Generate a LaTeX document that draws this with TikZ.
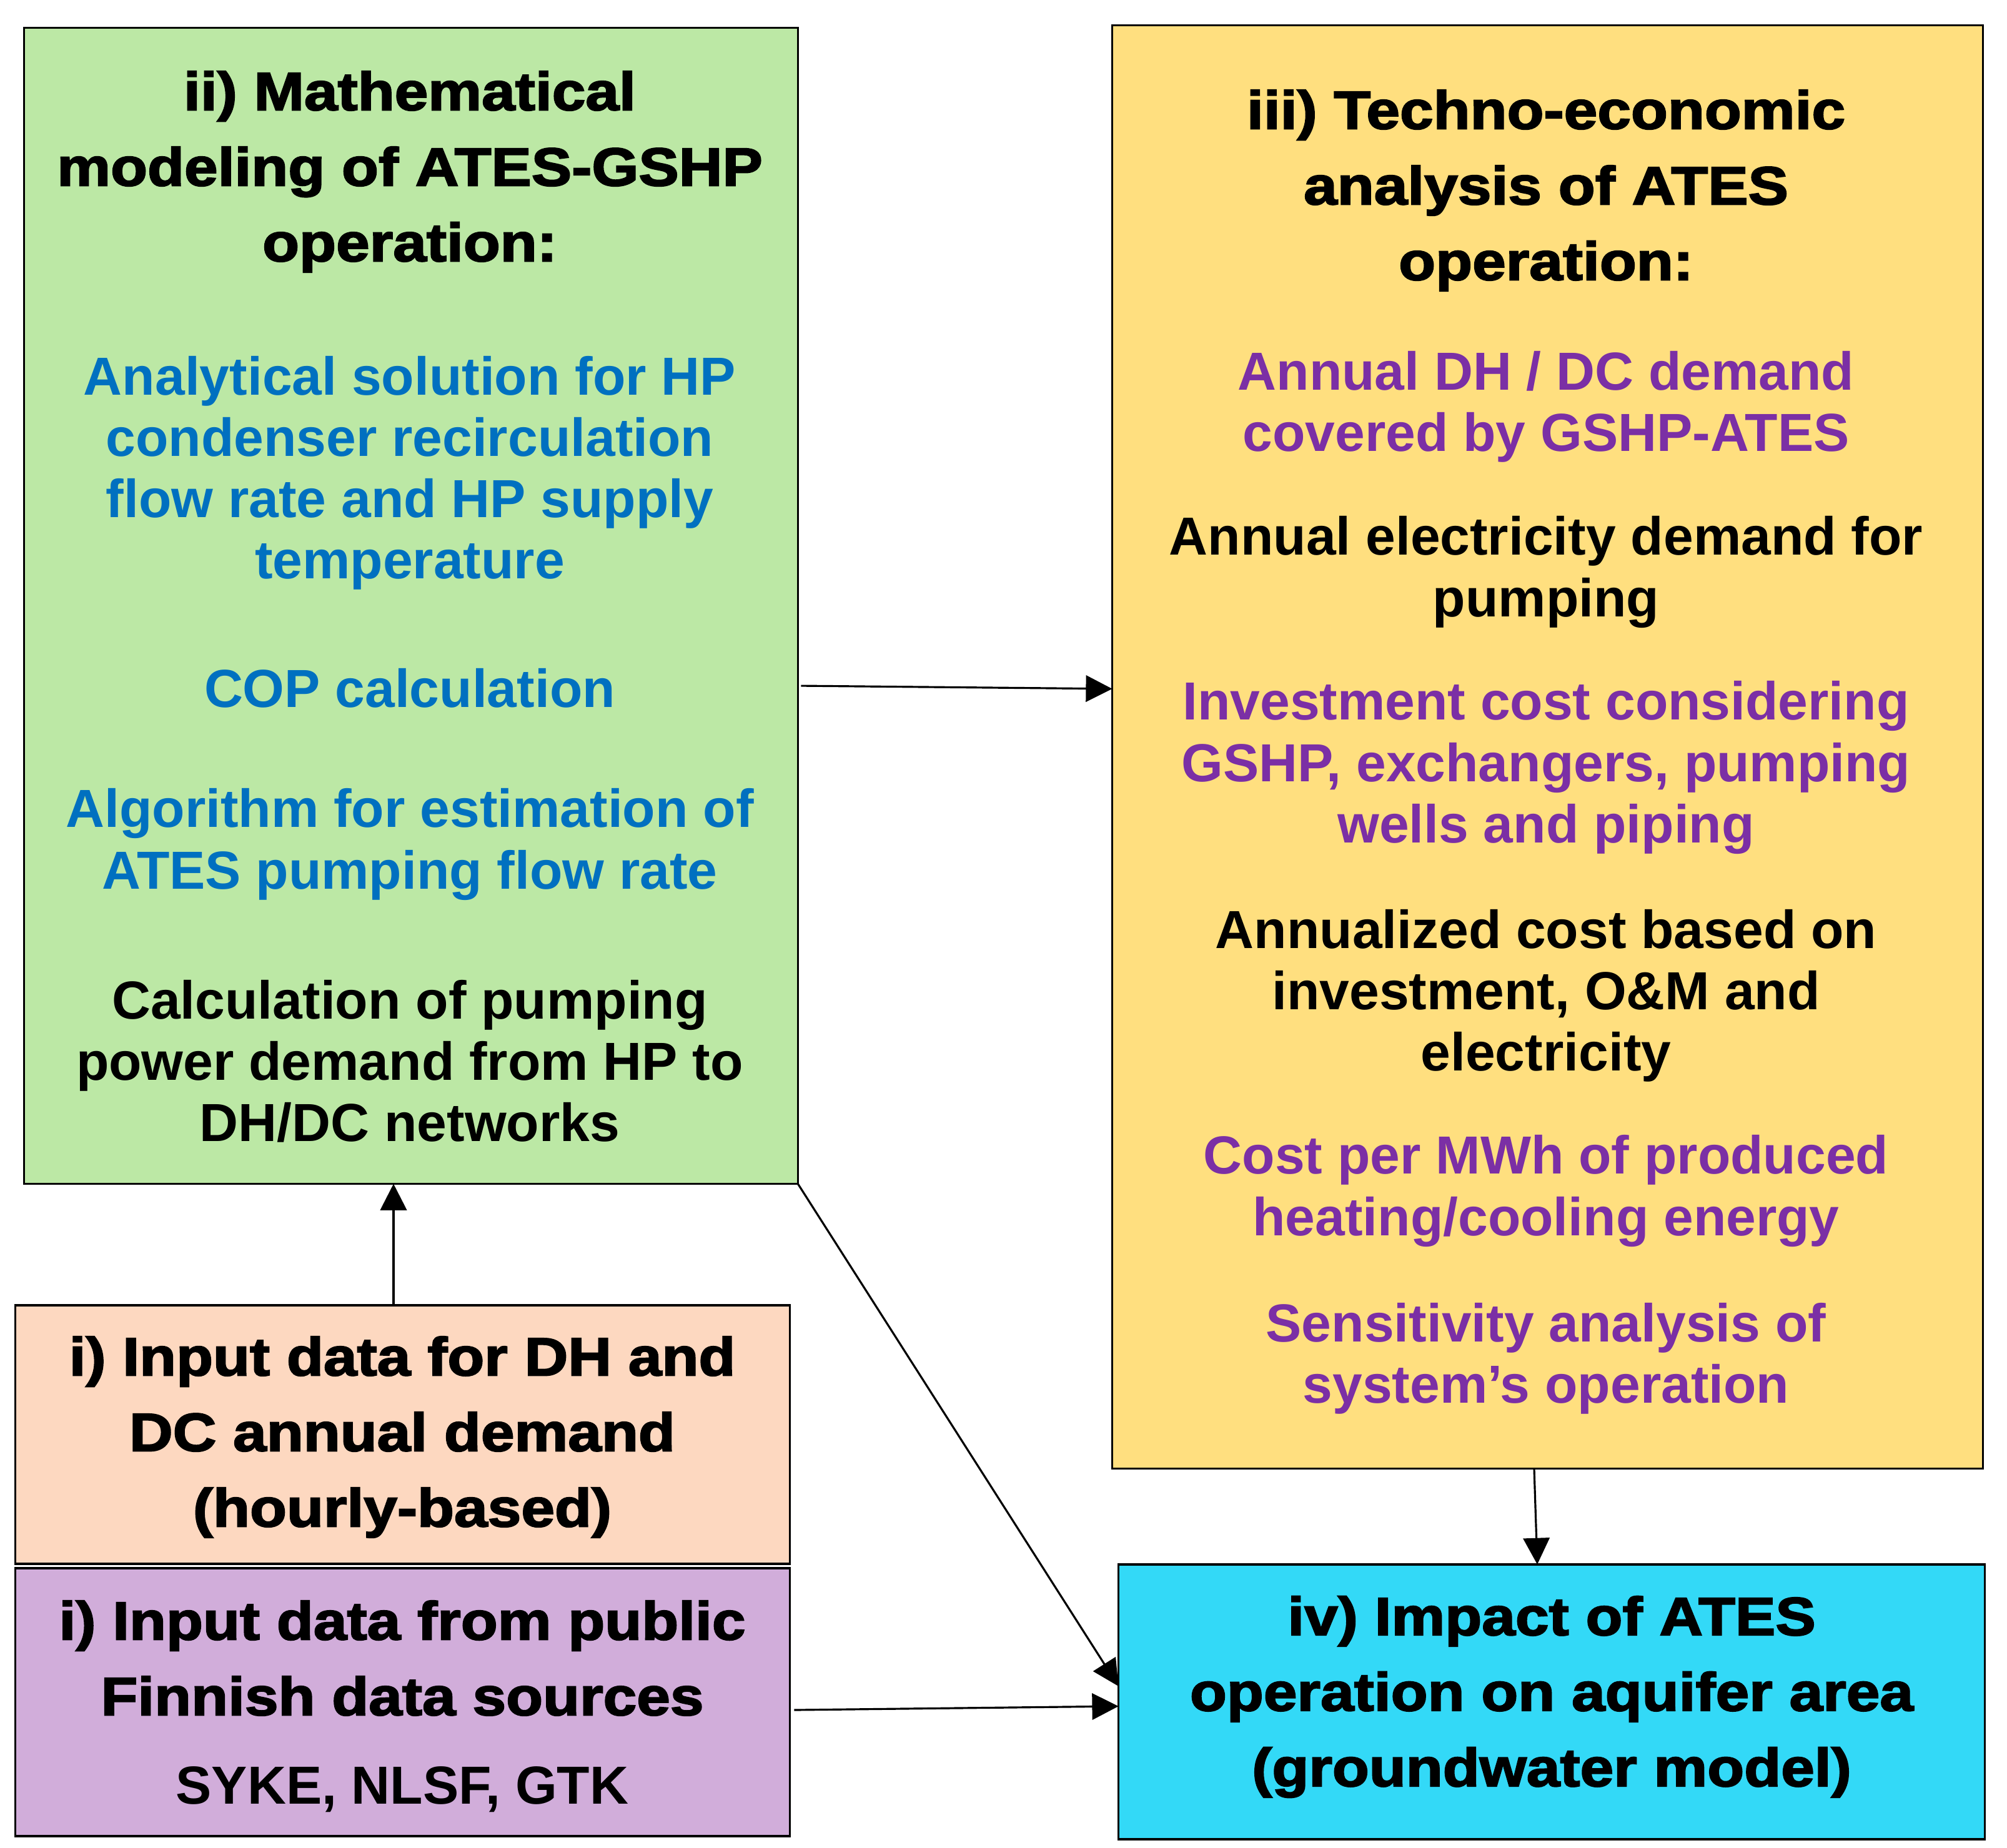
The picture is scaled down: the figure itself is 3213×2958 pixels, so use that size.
\documentclass[tikz,border=0pt]{standalone}
\usepackage{fontspec}
\setmainfont{Liberation Sans}
\newfontfamily\ttlfont{Liberation Sans}[BoldFeatures={FakeStretch=1.12,FakeBold=2.5}]
\usetikzlibrary{arrows.meta,calc}
\definecolor{gfill}{HTML}{BCE8A5}
\definecolor{yfill}{HTML}{FFDF7F}
\definecolor{pfill}{HTML}{FDD8C0}
\definecolor{vfill}{HTML}{D1ADDA}
\definecolor{cfill}{HTML}{33D9F7}
\definecolor{bluetxt}{HTML}{0070C0}
\definecolor{purtxt}{HTML}{7B2FA5}
\begin{document}
\begin{tikzpicture}[x=0.01cm,y=-0.01cm,
  box/.style={draw=black,line width=1pt,inner sep=0pt,outer sep=0pt},
  ttl/.style={align=center,inner sep=0pt,font=\ttlfont\bfseries\fontsize{24.5}{34.4}\selectfont},
  body/.style={align=center,inner sep=0pt,font=\bfseries\fontsize{24.4}{27.9}\selectfont},
  arr/.style={line width=0.9pt,-{Triangle[length=12pt,width=12pt]}}]
\useasboundingbox (0,0) rectangle (3213,2958);
\fill[white] (0,0) rectangle (3213,2958);

% boxes
\node[box,fill=gfill,minimum width=12.38cm,minimum height=18.5cm] (green) at (658,970) {};
\node[box,fill=yfill,minimum width=13.93cm,minimum height=23.1cm] (yellow) at (2477.5,1196) {};
\node[box,fill=pfill,minimum width=12.39cm,minimum height=4.14cm] (peach) at (644.5,2297) {};
\node[box,fill=vfill,minimum width=12.39cm,minimum height=4.29cm] (purple) at (644.5,2725.5) {};
\node[box,fill=cfill,minimum width=13.86cm,minimum height=4.4cm] (cyan) at (2484,2725) {};

% green texts
\node[ttl] (gt) at (656,275) {ii) Mathematical\\modeling of ATES-GSHP\\operation:};
\node[body,text=bluetxt] (g1) at (656,757) {Analytical solution for HP\\condenser recirculation\\flow rate and HP supply\\temperature};
\node[body,text=bluetxt] (g2) at (656,1102) {COP calculation};
\node[body,text=bluetxt] (g3) at (656,1352) {Algorithm for estimation of\\ATES pumping flow rate};
\node[body] (g4) at (656,1699) {Calculation of pumping\\power demand from HP to\\DH/DC networks};

% yellow texts
\node[ttl] (yt) at (2475,305) {iii) Techno-economic\\analysis of ATES\\operation:};
\node[body,text=purtxt] (y1) at (2475,651) {Annual DH / DC demand\\covered by GSHP-ATES};
\node[body] (y2) at (2475,916) {Annual electricity demand for\\pumping};
\node[body,text=purtxt] (y3) at (2475,1229) {Investment cost considering\\GSHP, exchangers, pumping\\wells and piping};
\node[body] (y4) at (2475,1594) {Annualized cost based on\\investment, O\&M and\\electricity};
\node[body,text=purtxt] (y5) at (2475,1907) {Cost per MWh of produced\\heating/cooling energy};
\node[body,text=purtxt] (y6) at (2475,2175) {Sensitivity analysis of\\system’s operation};

% input boxes texts
\node[ttl] (pt) at (644,2301) {i) Input data for DH and\\DC annual demand\\(hourly-based)};
\node[ttl] (vt) at (644,2655) {i) Input data from public\\Finnish data sources};
\node[body] (vs) at (644,2865) {SYKE, NLSF, GTK};

% cyan text
\node[ttl] (ct) at (2484,2717) {iv) Impact of ATES\\operation on aquifer area\\(groundwater model)};

% connectors
\draw[arr] ([xshift=0.05cm,yshift=-1.28cm]green.east) -- ([yshift=0.93cm]yellow.west);
\draw[arr] ([xshift=-0.145cm]peach.north) -- ([xshift=-0.145cm]peach.north |- green.south);
\draw[arr] ([xshift=-0.215cm]yellow.south) -- ([xshift=-0.23cm]cyan.north);
\draw[arr] (green.south east) -- ([yshift=0.25cm]cyan.west);
\draw[arr] ([xshift=0.07cm,yshift=-0.125cm]purple.east) -- ([yshift=-0.07cm]cyan.west);
\end{tikzpicture}
\end{document}
